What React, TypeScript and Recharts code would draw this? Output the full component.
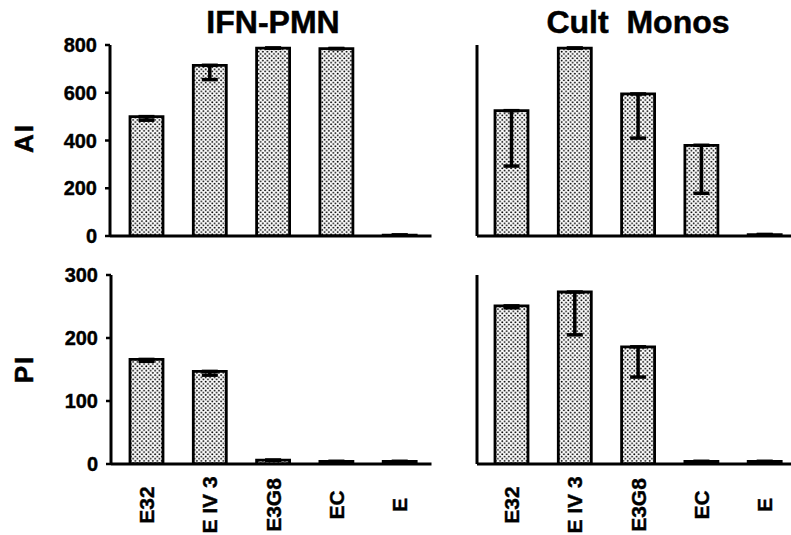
import { BarChart, Bar, XAxis, YAxis, ErrorBar } from 'recharts';

const FONT = '"Liberation Sans", Arial, Helvetica, sans-serif';

const categories = ['E32', 'E IV 3', 'E3G8', 'EC', 'E'];

// AI row
const aiPmn = [500, 715, 787, 785, 4];
const aiPmnErr = [15, 60, 0, 0, 0];
const aiMono = [525, 787, 595, 380, 6];
const aiMonoErr = [232, 0, 185, 201, 0];

// PI row
const piPmn = [166, 147, 6, 4, 4];
const piPmnErr = [3, 6, 0, 0, 0];
const piMono = [251, 273, 186, 4, 4];
const piMonoErr = [3, 68, 48, 0, 0];

const aiTicks = [0, 200, 400, 600, 800];
const piTicks = [0, 100, 200, 300];

const build = (vals: number[], errs: number[]) =>
  categories.map((name, i) => ({ name, value: vals[i], err: [errs[i], 0] }));

const XTick = (props: any) => {
  const { x, y, payload } = props;
  const ty = y + 41;
  return (
    <text
      x={x}
      y={ty}
      transform={`rotate(-90 ${x} ${ty})`}
      textAnchor="middle"
      dominantBaseline="central"
      fontFamily={FONT}
      fontWeight="bold"
      fontSize={21}
      fill="#000"
      stroke="#000"
      strokeWidth={0.4}
    >
      {payload.value}
    </text>
  );
};

interface PanelProps {
  data: { name: string; value: number; err: number[] }[];
  left: number;
  yMax: number;
  ticks: number[];
  axisWidth: number;
  padLeft: number;
  top: number;
  plotHeight: number;
  showYTicks: boolean;
  showXTicks: boolean;
}

function Panel({ data, left, yMax, ticks, axisWidth, padLeft, top, plotHeight, showYTicks, showXTicks }: PanelProps) {
  const xHeight = showXTicks ? 71 : 12;
  const width = axisWidth + padLeft + 316.5;
  return (
    <div style={{ position: 'absolute', left, top: 0 }}>
      <BarChart
        width={width}
        height={top + plotHeight + xHeight}
        data={data}
        margin={{ top, right: 0, bottom: 0, left: 0 }}
        barCategoryGap={0}
      >
        <XAxis
          dataKey="name"
          type="category"
          height={xHeight}
          padding={{ left: padLeft, right: 0 }}
          axisLine={{ stroke: '#000', strokeWidth: 3 }}
          tickLine={false}
          tickSize={0}
          tickMargin={0}
          tick={showXTicks ? <XTick /> : false}
          interval={0}
        />
        <YAxis
          type="number"
          domain={[0, yMax]}
          ticks={ticks}
          interval={0}
          width={axisWidth}
          axisLine={{ stroke: '#000', strokeWidth: 3 }}
          tickLine={showYTicks ? { stroke: '#000', strokeWidth: 2.5 } : false}
          tickSize={5}
          tickMargin={8}
          tick={
            showYTicks
              ? { fill: '#000', stroke: '#000', strokeWidth: 0.4, fontSize: 20, fontWeight: 'bold', fontFamily: FONT }
              : false
          }
          allowDataOverflow
        />
        <Bar
          dataKey="value"
          barSize={33}
          fill="url(#dots)"
          stroke="#000"
          strokeWidth={2.8}
          isAnimationActive={false}
        >
          <ErrorBar
            dataKey="err"
            direction="y"
            width={8}
            strokeWidth={3.5}
            stroke="#000"
            isAnimationActive={false}
          />
        </Bar>
      </BarChart>
    </div>
  );
}

export default function App() {
  return (
    <div
      style={{
        position: 'absolute',
        left: 0,
        top: 0,
        width: 791,
        height: 535,
        overflow: 'hidden',
        background: '#fff',
      }}
    >
      <svg width={0} height={0} style={{ position: 'absolute' }}>
        <defs>
          <pattern id="dots" width={4.4} height={4.4} patternUnits="userSpaceOnUse">
            <rect width={4.4} height={4.4} fill="#fff" />
            <circle cx={1.1} cy={1.1} r={0.95} fill="#000" />
            <circle cx={3.3} cy={3.3} r={0.95} fill="#000" />
          </pattern>
        </defs>
      </svg>

      <Panel data={build(aiPmn, aiPmnErr)} left={0} yMax={800} ticks={aiTicks} axisWidth={110}
        padLeft={5} top={45} plotHeight={191} showYTicks showXTicks={false} />
      <Panel data={build(aiMono, aiMonoErr)} left={400} yMax={800} ticks={aiTicks} axisWidth={77}
        padLeft={3} top={45} plotHeight={191} showYTicks={false} showXTicks={false} />
      <Panel data={build(piPmn, piPmnErr)} left={0} yMax={300} ticks={piTicks} axisWidth={111}
        padLeft={4} top={275} plotHeight={189} showYTicks showXTicks />
      <Panel data={build(piMono, piMonoErr)} left={400} yMax={300} ticks={piTicks} axisWidth={77}
        padLeft={3} top={275} plotHeight={189} showYTicks={false} showXTicks />

      <svg width={791} height={535} style={{ position: 'absolute', left: 0, top: 0, pointerEvents: 'none' }}>
        <g fontFamily={FONT} fontWeight="bold" fill="#000" stroke="#000" strokeWidth={0.5}>
          <text x={273} y={33} fontSize={32} textAnchor="middle">IFN-PMN</text>
          <text x={638} y={33} fontSize={32} textAnchor="middle" style={{ whiteSpace: 'pre' }}>
            {'Cult  Monos'}
          </text>
          <text x={23.5} y={138} fontSize={26} textAnchor="middle" dominantBaseline="central"
            letterSpacing={2} transform="rotate(-90 23.5 138)">AI</text>
          <text x={23.5} y={369} fontSize={26} textAnchor="middle" dominantBaseline="central"
            letterSpacing={2} transform="rotate(-90 23.5 369)">PI</text>
        </g>
      </svg>
    </div>
  );
}
